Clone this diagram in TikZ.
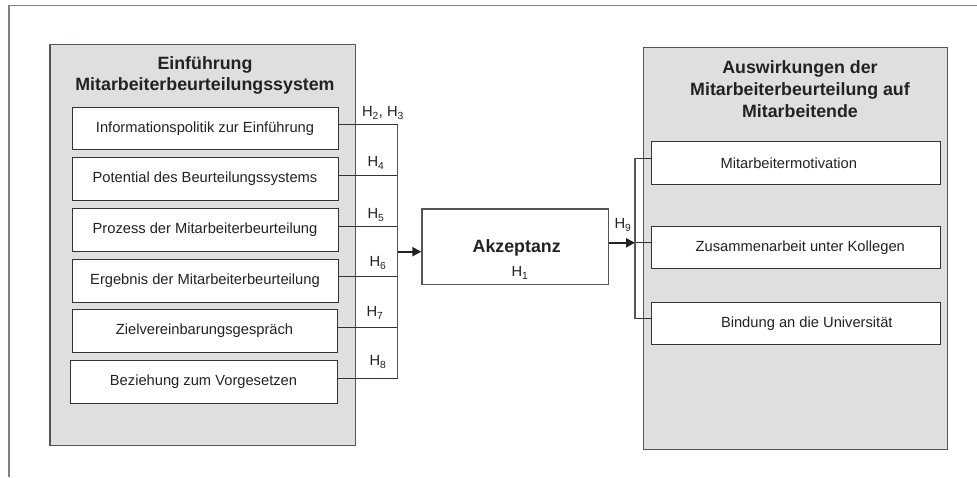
\documentclass[tikz,border=0pt]{standalone}
\usepackage{fontspec}
\setmainfont{Liberation Sans}
\usetikzlibrary{arrows.meta}
\definecolor{groupfill}{HTML}{DEDFE1}
\definecolor{groupline}{HTML}{555555}
\definecolor{boxline}{HTML}{333333}
\definecolor{framecol}{HTML}{808080}
\definecolor{txt}{HTML}{222222}
\tikzset{
  groupbox/.style={draw=groupline, fill=groupfill, line width=1.3pt, inner sep=0pt},
  itembox/.style={draw=boxline, fill=white, line width=0.9pt, inner sep=0pt,
    minimum height=42.5pt, text=txt, font=\fontsize{14.7}{17.6}\selectfont},
  grouptitle/.style={align=center, text=txt, font=\fontsize{17.8}{21.5}\selectfont\bfseries},
  hlabel/.style={inner sep=0pt, text=txt, font=\fontsize{14.7}{17.6}\selectfont},
  conn/.style={draw=boxline, line width=0.9pt},
  busline/.style={draw=groupline, line width=1.2pt},
  thickarrow/.style={draw=txt, line width=2.3pt, -{Triangle[length=9pt,width=9pt]}}
}
\begin{document}
\begin{tikzpicture}[x=1pt,y=-1pt]
\useasboundingbox (0,0) rectangle (977,477);
% outer frame (partial)
\coordinate (fbl) at (9,477);
\coordinate (ftl) at (9,5.7);
\coordinate (ftr) at (977,5.7);
\draw[framecol, line width=1.3pt] (fbl) -- (ftl) -- (ftr);

% left group
\node[groupbox, minimum width=305.7pt, minimum height=401.2pt] (lg) at (202.85,245.1) {};
\node[grouptitle] (lgt) at (205,75.5) {Einführung\\Mitarbeiterbeurteilungssystem};
\node[itembox, minimum width=266pt] (b1) at (205,128.5) {Informationspolitik zur Einführung};
\node[itembox, minimum width=266pt] (b2) at (205,179) {Potential des Beurteilungssystems};
\node[itembox, minimum width=266pt] (b3) at (205,230) {Prozess der Mitarbeiterbeurteilung};
\node[itembox, minimum width=266pt] (b4) at (205,280.7) {Ergebnis der Mitarbeiterbeurteilung};
\node[itembox, minimum width=265pt] (b5) at (204.5,331) {Zielvereinbarungsgespräch};
\node[itembox, minimum width=267pt] (b6) at (203.5,382) {Beziehung zum Vorgesetzen};

% left bus
\coordinate (busx) at (397.7,0);
\foreach \i in {1,...,6} {
  \coordinate (p\i) at ([yshift=4pt]b\i.east);
  \draw[conn] (p\i) -- (p\i -| busx);
}
\draw[busline] (p1 -| busx) -- (p6 -| busx);

\node[hlabel] (h23) at (383,113) {H\textsubscript{2}, H\textsubscript{3}};
\node[hlabel] (h4) at (376,163) {H\textsubscript{4}};
\node[hlabel] (h5) at (376,215) {H\textsubscript{5}};
\node[hlabel] (h6) at (378,263) {H\textsubscript{6}};
\node[hlabel] (h7) at (375,313) {H\textsubscript{7}};
\node[hlabel] (h8) at (378,362) {H\textsubscript{8}};

% Akzeptanz
\node[draw=groupline, fill=white, line width=1.2pt, minimum width=186.7pt, minimum height=75.3pt, inner sep=0pt] (ak) at (515.3,246.7) {};
\node[text=txt, inner sep=0pt, font=\fontsize{17.8}{21}\selectfont\bfseries] (akt) at (516.7,247.7) {Akzeptanz};
\node[hlabel] (h1) at (520,273) {H\textsubscript{1}};
\coordinate (ain) at ([yshift=-5pt]ak.west);
\draw[thickarrow] (ain -| busx) -- (ain);

% right group
\node[groupbox, minimum width=304.4pt, minimum height=401.6pt] (rg) at (795.5,248.5) {};
\node[grouptitle, font=\fontsize{17.8}{22}\selectfont\bfseries] (rgt) at (800,89.3) {Auswirkungen der\\Mitarbeiterbeurteilung auf\\Mitarbeitende};
\node[itembox, minimum width=288.3pt] (r1) at (795.8,162.9) {\hspace*{-14pt}Mitarbeitermotivation};
\node[itembox, minimum width=288.3pt] (r2) at (795.8,247.3) {\hspace*{9pt}Zusammenarbeit unter Kollegen};
\node[itembox, minimum width=288.3pt] (r3) at (795.8,323.3) {\hspace*{22pt}Bindung an die Universität};

\coordinate (rbus) at (635,0);
\foreach \i in {1,2,3} {
  \coordinate (q\i) at ([yshift=4.5pt]r\i.west);
}
\draw[thickarrow] (q2 -| ak.east) -- (q2 -| rbus);
\foreach \i in {1,2,3} {
  \draw[conn] (q\i -| rbus) -- (q\i);
}
\draw[busline] (q1 -| rbus) -- (q3 -| rbus);
\node[hlabel] (h9) at (623,225) {H\textsubscript{9}};
\end{tikzpicture}
\end{document}
